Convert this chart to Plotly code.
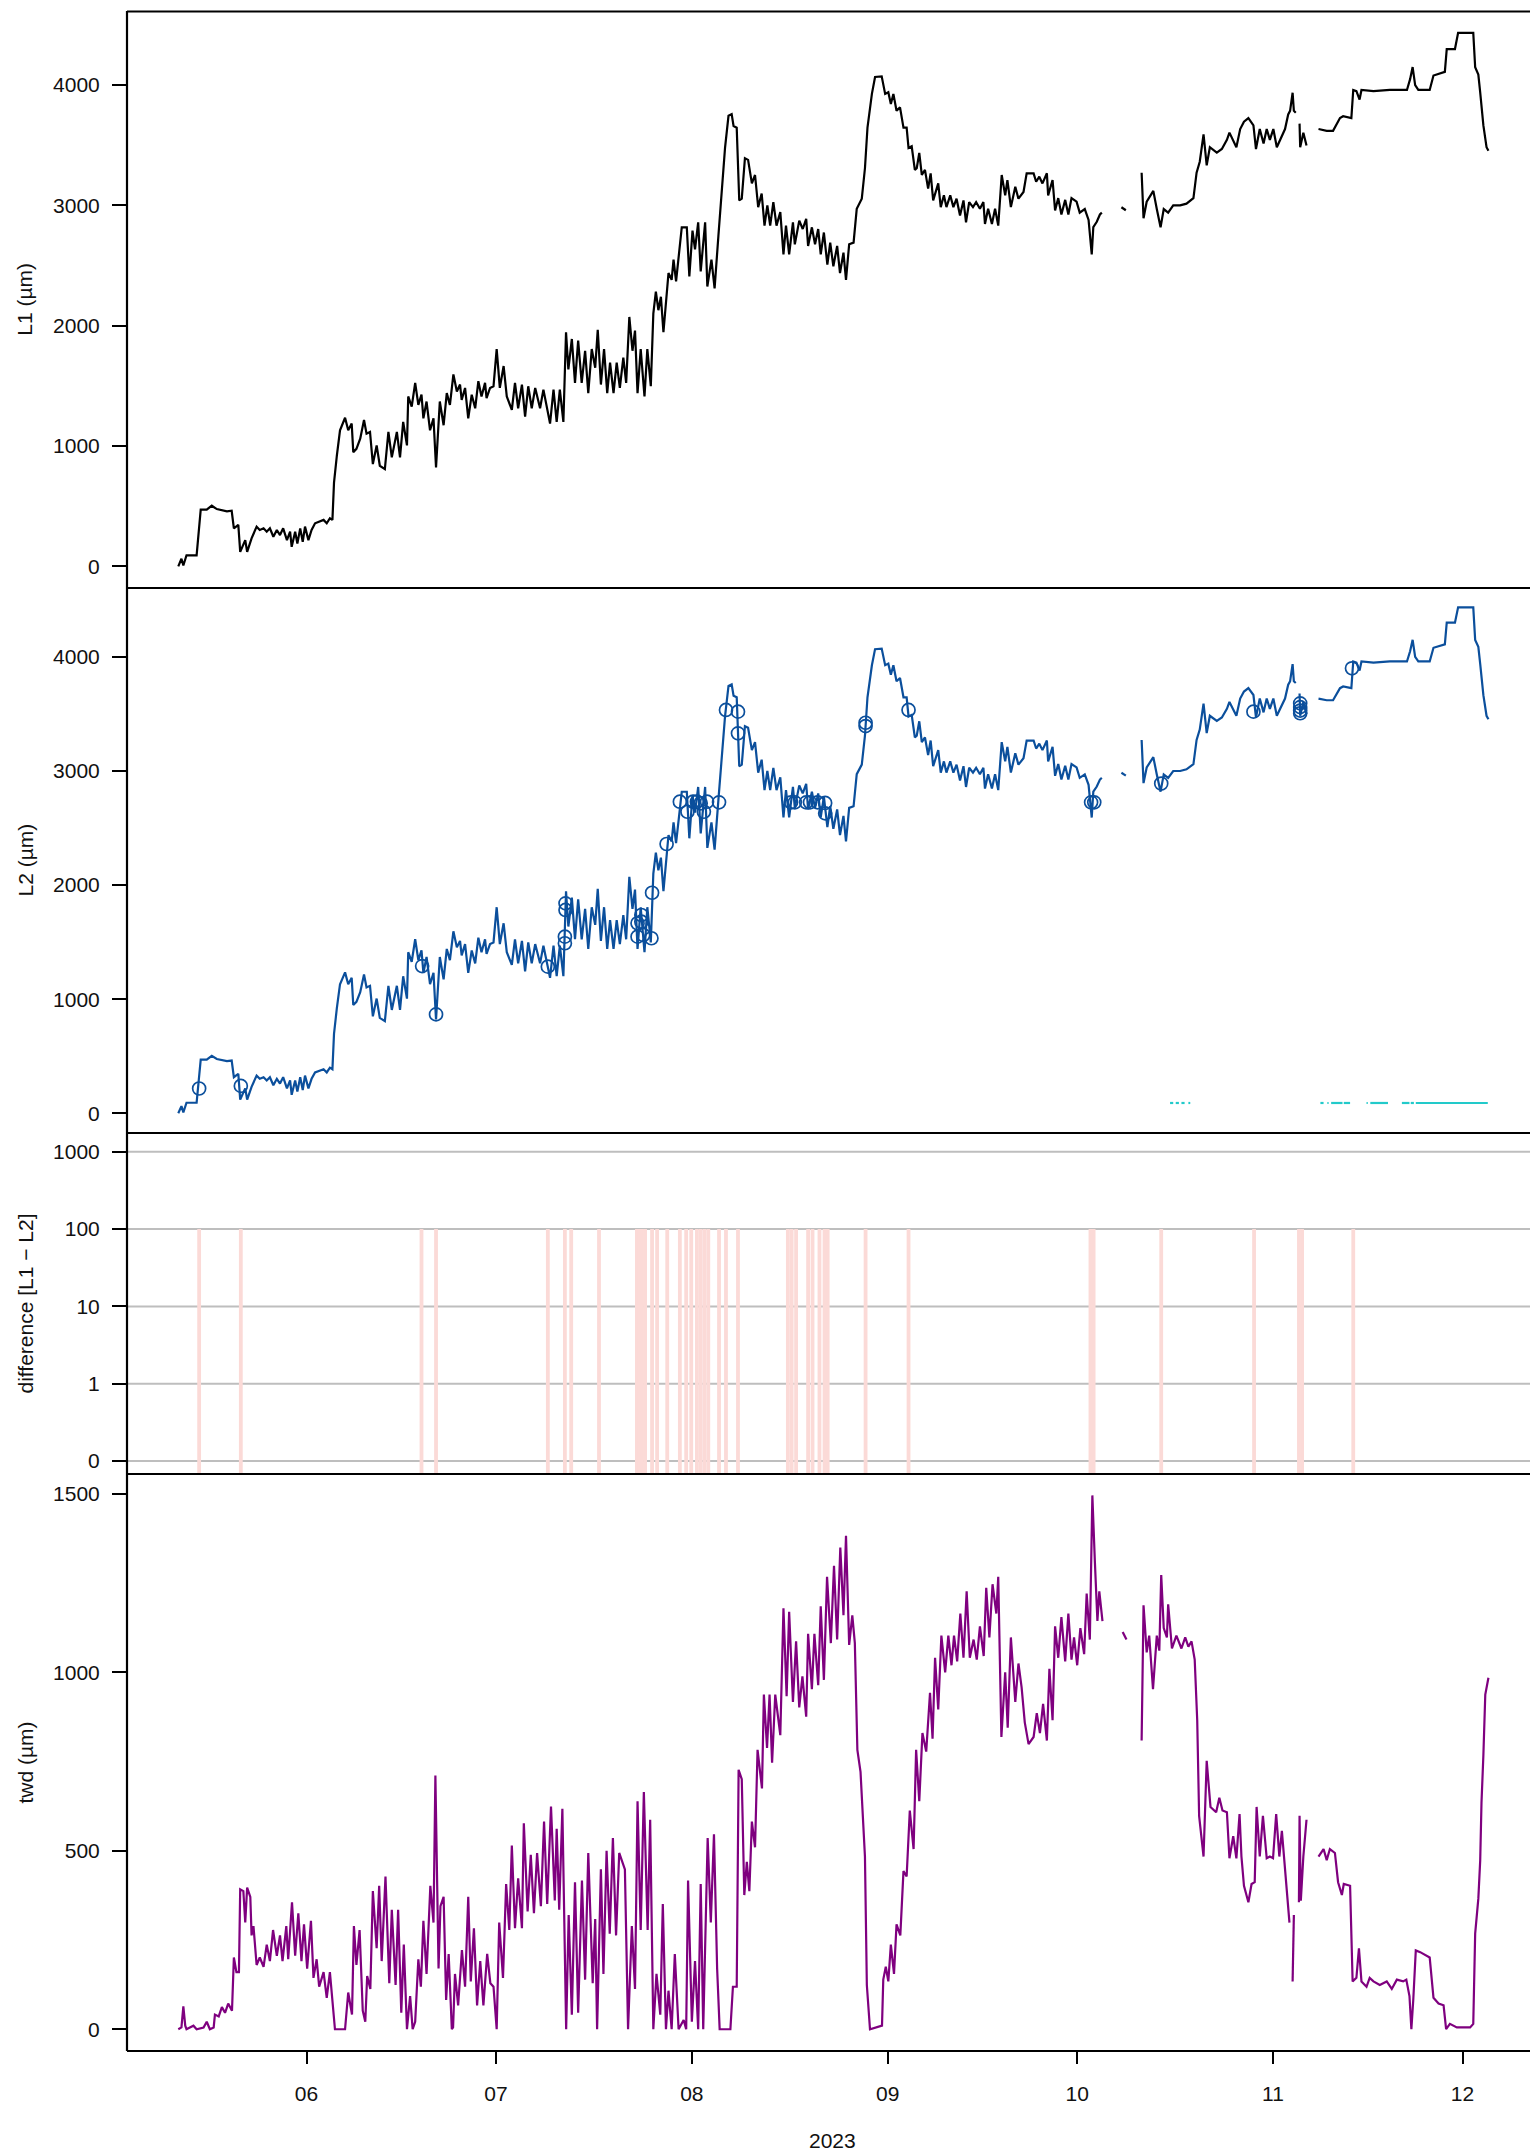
import pandas as pd
import plotly.graph_objects as go

# ---------------- data (x = days after 2023-06-01) ----------------
BASE = pd.Timestamp("2023-06-01")

l1_points = [
    (-20.3, 0), (-19.8, 63), (-19.5, 7), (-19.0, 92), (-17.4, 92), (-17.0, 330), (-16.75, 471),
    (-15.8, 471), (-15.0, 504), (-14.2, 476), (-12.6, 457), (-11.85, 462), (-11.5, 316),
    (-10.8, 345), (-10.5, 120), (-9.7, 218), (-9.4, 120), (-8.7, 232), (-7.9, 330), (-7.4, 302),
    (-6.8, 316), (-6.3, 288), (-5.8, 316), (-5.25, 246), (-4.7, 302), (-4.2, 260), (-3.7, 316),
    (-3.1, 218), (-2.6, 288), (-2.35, 162), (-1.8, 288), (-1.45, 190), (-1.0, 316), (-0.6, 204),
    (-0.24, 330), (0.3, 218), (0.8, 302), (1.35, 358), (2.0, 372), (2.7, 386), (3.2, 358),
    (3.7, 400), (4.1, 386), (4.35, 696), (4.8, 921), (5.3, 1131), (6.1, 1235), (6.6, 1131),
    (7.15, 1187), (7.4, 949), (7.9, 977), (8.5, 1061), (9.1, 1216), (9.5, 1103), (10.05, 1117),
    (10.5, 850), (11.1, 1005), (11.6, 836), (12.4, 808), (12.96, 1117), (13.5, 906), (14.3, 1117),
    (14.8, 906), (15.3, 1201), (15.9, 1005), (16.1, 1412), (16.65, 1328), (17.2, 1525),
    (17.7, 1342), (18.2, 1427), (18.5, 1230), (19.0, 1370), (19.55, 1131), (20.1, 1230),
    (20.5, 822), (21.1, 1370), (21.7, 1173), (22.2, 1440), (22.7, 1342), (23.25, 1595),
    (23.8, 1454), (24.3, 1511), (24.56, 1384), (25.1, 1483), (25.6, 1230), (26.15, 1427),
    (26.7, 1314), (27.2, 1539), (27.7, 1412), (28.26, 1525), (28.5, 1398), (29.05, 1483),
    (29.6, 1497), (30.1, 1806), (30.6, 1483), (31.2, 1665), (31.7, 1412), (32.5, 1300),
    (33.0, 1525), (33.5, 1314), (34.1, 1511), (34.6, 1244), (35.1, 1497), (35.65, 1314),
    (36.2, 1483), (36.97, 1314), (37.5, 1469), (38.55, 1187), (39.1, 1469), (39.6, 1201),
    (40.1, 1469), (40.66, 1201), (41.08, 1946), (41.45, 1637), (42.0, 1890), (42.5, 1525),
    (43.0, 1876), (43.56, 1525), (44.1, 1792), (44.6, 1440), (45.15, 1806), (45.7, 1651),
    (46.1, 1967), (46.6, 1511), (47.1, 1806), (47.6, 1440), (48.05, 1693), (48.6, 1440),
    (49.1, 1693), (49.6, 1483), (50.15, 1736), (50.6, 1525), (51.1, 2073), (51.6, 1792),
    (52.0, 1960), (52.4, 1440), (52.9, 1806), (53.5, 1412), (53.95, 1806), (54.5, 1497),
    (54.9, 2101), (55.3, 2284), (55.7, 2129), (56.1, 2241), (56.5, 1946), (57.3, 2438),
    (57.8, 2382), (58.1, 2550), (58.5, 2368), (59.1, 2677), (59.4, 2818), (60.2, 2818),
    (60.6, 2410), (61.1, 2790), (61.5, 2635), (62.0, 2860), (62.4, 2452), (63.1, 2860),
    (63.45, 2326), (64.1, 2550), (64.6, 2311), (65.2, 2747), (65.7, 3084), (66.25, 3478),
    (66.8, 3745), (67.3, 3759), (67.6, 3660), (68.1, 3646), (68.5, 3042), (68.9, 3056),
    (69.4, 3393), (69.9, 3379), (70.5, 3183), (71.0, 3253), (71.5, 2986), (72.05, 3099),
    (72.5, 2832), (72.95, 3000), (73.4, 2832), (73.9, 3028), (74.4, 2832), (75.0, 2944),
    (75.5, 2593), (75.9, 2832), (76.4, 2593), (77.0, 2860), (77.3, 2677), (78.0, 2874),
    (78.55, 2804), (79.1, 2888), (79.4, 2663), (80.0, 2818), (80.5, 2677), (81.0, 2804),
    (81.4, 2593), (81.9, 2775), (82.45, 2508), (82.9, 2691), (83.4, 2494), (84.0, 2663),
    (84.45, 2438), (85.0, 2607), (85.4, 2382), (85.9, 2677), (86.6, 2691), (87.1, 2972),
    (87.9, 3056), (88.4, 3309), (88.8, 3646), (89.5, 3927), (90.0, 4068), (91.05, 4073),
    (91.6, 3927), (92.1, 3941), (92.5, 3843), (92.9, 3927), (93.4, 3787), (93.95, 3815),
    (94.5, 3646), (95.0, 3646), (95.3, 3478), (95.8, 3492), (96.3, 3295), (96.6, 3309),
    (97.0, 3436), (97.4, 3253), (97.9, 3295), (98.4, 3140), (98.8, 3267), (99.2, 3042),
    (100.0, 3183), (100.4, 2986), (100.9, 3084), (101.3, 2986), (101.9, 3084), (102.4, 2986),
    (102.9, 3056), (103.45, 2916), (104.0, 3042), (104.4, 2860), (104.9, 3028), (105.5, 2986),
    (106.0, 3028), (106.6, 2972), (107.15, 3028), (107.4, 2846), (107.9, 2972), (108.5, 2846),
    (109.0, 2972), (109.5, 2832), (110.05, 3253), (110.6, 3084), (110.95, 3211), (111.5, 2986),
    (112.2, 3155), (112.7, 3056), (113.5, 3112), (114.0, 3267), (115.1, 3267), (115.5, 3197),
    (116.0, 3239), (116.5, 3183), (117.2, 3267), (117.4, 3084), (118.1, 3211), (118.5, 2958),
    (119.0, 3061), (119.5, 2925), (120.1, 3046), (120.6, 2925), (121.1, 3061), (121.9, 3031),
    (122.4, 2940), (123.2, 2970), (123.8, 2879), (124.3, 2592), (124.55, 2819), (125.1, 2864),
    (125.6, 2925), (125.9, 2940), (126.5, None), (129.0, 2985), (129.7, 2960), (130.5, None),
    (132.2, 3272), (132.5, 2894), (133.0, 3031), (134.05, 3121), (134.6, 2970), (135.2, 2819),
    (135.7, 2970), (136.4, 2940), (137.2, 3000), (138.3, 3000), (139.3, 3015), (140.4, 3061),
    (140.9, 3272), (141.4, 3363), (142.0, 3590), (142.5, 3333), (143.0, 3484), (144.1, 3439),
    (144.9, 3469), (145.7, 3545), (146.1, 3605), (146.6, 3545), (147.2, 3484), (147.8, 3635),
    (148.4, 3696), (149.1, 3726), (149.9, 3666), (150.3, 3469), (150.9, 3635), (151.5, 3514),
    (152.0, 3635), (152.5, 3545), (153.05, 3635), (153.6, 3484), (154.1, 3545), (154.9, 3635),
    (155.4, 3756), (155.7, 3786), (156.1, 3937), (156.3, 3786), (156.6, 3771), (156.9, None),
    (157.2, 3680), (157.3, 3484), (157.8, 3605), (158.3, 3499), (159.0, None),
    (160.2, 3635), (161.5, 3620), (162.5, 3620), (163.6, 3726), (164.1, 3741), (165.4, 3726),
    (165.7, 3960), (166.2, 3950), (166.7, 3880), (167.0, 3960), (168.9, 3950), (171.5, 3960),
    (174.2, 3960), (174.7, 4050), (175.1, 4150), (175.5, 4000), (176.0, 3960), (177.8, 3960),
    (178.4, 4080), (179.4, 4100), (180.2, 4110), (180.5, 4300), (181.8, 4300), (182.3, 4434),
    (184.7, 4434), (185.0, 4149), (185.5, 4088), (185.8, 3937), (186.3, 3665), (186.8, 3484),
    (187.1, 3454),
]

# L2 follows the same curve as L1 in the picture
l2_points = list(l1_points)

l2_circles = [
    (-17.0, 217), (-10.4, 240), (18.3, 1290), (20.5, 867), (38.2, 1285), (40.9, 1490),
    (40.9, 1548), (41.0, 1782), (41.0, 1840), (52.4, 1665), (52.4, 1548), (53.0, 1738),
    (53.0, 1679), (53.3, 1563), (54.6, 1534), (54.7, 1933), (57.0, 2360), (59.1, 2731),
    (60.3, 2643), (61.2, 2731), (61.8, 2731), (62.4, 2717), (62.9, 2643), (63.4, 2731),
    (65.3, 2725), (66.4, 3535), (68.3, 3520), (68.3, 3330), (76.7, 2725), (77.3, 2725),
    (79.1, 2725), (79.7, 2725), (80.9, 2725), (82.1, 2720), (82.1, 2629), (88.5, 3423),
    (88.5, 3394), (95.3, 3535), (124.2, 2725), (124.7, 2725), (135.3, 2890), (149.9, 3520),
    (157.3, 3593), (157.3, 3560), (157.3, 3530), (157.3, 3506), (165.5, 3900),
]

# frost-flag segments drawn near the bottom of the L2 panel: (start, end) in days
frost_segments = [
    (136.7, 137.2), (137.6, 138.1), (138.5, 139.0), (139.6, 139.9),
    (160.5, 161.0), (161.6, 161.8), (162.2, 164.0), (164.2, 165.2),
    (167.8, 168.0), (168.4, 171.2), (173.4, 174.6), (174.8, 175.3), (175.6, 187.0),
]
frost_level = 90

# days with a difference between L1 and L2 (drawn up to the "100" level)
diff_days = [
    -17.0, -10.4, 18.2, 20.5, 38.2, 40.9, 41.9, 46.3, 52.3, 52.7, 53.1, 53.6, 54.7, 55.5,
    57.1, 59.1, 60.1, 60.9, 61.8, 62.4, 63.0, 63.6, 65.3, 66.4, 68.3, 76.2, 76.8, 77.5,
    79.4, 80.1, 81.2, 82.0, 82.5, 88.5, 95.3, 124.1, 124.6, 135.3, 150.0, 157.1, 157.6, 165.7,
]
diff_level = 3  # position of the "100" tick

twd_points = [
    (-20.3, 0), (-19.8, 5), (-19.5, 64), (-19.2, 10), (-19.0, 0), (-18.4, 5), (-17.9, 10),
    (-17.4, 0), (-16.3, 5), (-15.8, 21), (-15.3, 0), (-14.7, 5), (-14.5, 41), (-13.9, 36),
    (-13.4, 62), (-12.9, 46), (-12.4, 72), (-11.8, 52), (-11.5, 201), (-11.1, 160), (-10.7, 160),
    (-10.5, 392), (-10.0, 387), (-9.7, 299), (-9.4, 397), (-8.9, 371), (-8.7, 263), (-8.4, 289),
    (-7.9, 180), (-7.4, 201), (-6.8, 175), (-6.3, 237), (-5.8, 191), (-5.3, 278), (-4.7, 206),
    (-4.2, 263), (-3.8, 191), (-3.2, 289), (-2.9, 196), (-2.3, 356), (-1.8, 206), (-1.3, 325),
    (-0.8, 191), (-0.4, 294), (0.1, 170), (0.7, 304), (1.1, 144), (1.6, 196), (2.0, 119),
    (2.7, 160), (3.2, 88), (3.7, 160), (4.1, 67), (4.5, 0), (6.1, 0), (6.6, 103), (7.2, 41),
    (7.5, 289), (7.9, 180), (8.4, 278), (8.9, 52), (9.3, 21), (9.6, 149), (10.1, 113),
    (10.5, 387), (11.1, 227), (11.5, 402), (11.9, 191), (12.5, 428), (13.1, 129), (13.5, 335),
    (14.1, 124), (14.5, 335), (15.0, 46), (15.4, 237), (15.9, 0), (16.4, 93), (16.8, 0),
    (17.2, 21), (17.7, 196), (18.1, 119), (18.5, 304), (19.0, 155), (19.6, 402), (20.1, 299),
    (20.4, 711), (20.9, 170), (21.2, 345), (21.7, 371), (22.1, 82), (22.5, 211), (23.0, 0),
    (23.2, 5), (23.5, 155), (24.0, 67), (24.6, 222), (25.1, 119), (25.6, 371), (26.0, 134),
    (26.5, 283), (27.0, 67), (27.5, 191), (28.0, 67), (28.6, 211), (29.1, 129), (29.6, 119),
    (30.1, 0), (30.5, 299), (31.1, 144), (31.6, 407), (32.1, 278), (32.5, 515), (33.0, 283),
    (33.5, 423), (34.1, 283), (34.4, 577), (35.0, 330), (35.5, 489), (36.0, 325), (36.5, 494),
    (37.1, 345), (37.6, 582), (38.1, 351), (38.7, 624), (39.3, 361), (39.6, 562), (40.0, 335),
    (40.5, 618), (41.1, 0), (41.5, 320), (42.0, 41), (42.5, 412), (43.0, 46), (43.6, 417),
    (44.1, 139), (44.6, 494), (45.3, 129), (45.7, 309), (46.0, 0), (46.6, 448), (47.0, 155),
    (47.5, 500), (48.0, 268), (48.5, 536), (49.0, 263), (49.5, 494), (50.4, 448), (50.9, 0),
    (51.5, 289), (52.0, 113), (52.4, 639), (52.9, 278), (53.4, 665), (54.0, 278), (54.4, 587),
    (54.9, 0), (55.4, 155), (56.0, 41), (56.4, 351), (56.9, 0), (57.3, 108), (57.8, 0),
    (58.3, 211), (58.9, 0), (59.7, 26), (60.1, 0), (60.4, 417), (61.0, 21), (61.5, 191),
    (62.0, 0), (62.4, 407), (62.8, 0), (63.5, 536), (64.0, 299), (64.5, 546), (65.0, 170),
    (65.4, 0), (67.1, 0), (67.5, 119), (68.1, 119), (68.4, 727), (68.9, 701), (69.3, 376),
    (69.7, 469), (70.1, 387), (70.5, 582), (71.0, 510), (71.4, 783), (72.1, 675), (72.4, 938),
    (72.9, 788), (73.3, 938), (73.7, 747), (74.2, 938), (75.0, 824), (75.5, 1180), (76.0, 933),
    (76.4, 1170), (77.0, 917), (77.5, 1087), (78.0, 902), (78.5, 989), (79.1, 876), (79.4, 1108),
    (80.0, 953), (80.4, 1108), (81.0, 964), (81.4, 1185), (81.9, 979), (82.4, 1268), (83.0, 1082),
    (83.5, 1299), (84.0, 1092), (84.5, 1350), (85.0, 1160), (85.4, 1383), (85.9, 1077),
    (86.4, 1160), (86.8, 1082), (87.2, 783), (87.7, 721), (88.4, 484), (88.7, 124), (89.2, 0),
    (91.1, 10), (91.3, 139), (91.7, 175), (92.1, 134), (92.5, 237), (93.0, 155), (93.4, 294),
    (94.0, 263), (94.5, 443), (95.0, 428), (95.5, 613), (96.1, 505), (96.5, 783), (97.0, 639),
    (97.5, 830), (98.1, 778), (98.7, 943), (99.1, 814), (99.5, 1041), (100.0, 896),
    (100.5, 1103), (101.1, 1000), (101.6, 1103), (102.1, 1020), (102.5, 1103), (103.0, 1031),
    (103.5, 1165), (104.0, 1041), (104.5, 1227), (105.0, 1041), (105.6, 1092), (106.1, 1036),
    (106.6, 1129), (107.2, 1046), (107.6, 1237), (108.1, 1098), (108.6, 1247), (109.2, 1165),
    (109.5, 1268), (110.0, 819), (110.6, 1000), (111.0, 845), (111.5, 1098), (112.2, 917),
    (112.7, 1025), (113.2, 958), (113.7, 860), (114.3, 799), (115.1, 819), (115.6, 886),
    (116.1, 830), (116.6, 912), (117.2, 809), (117.6, 1010), (118.1, 866), (118.5, 1129),
    (119.0, 1041), (119.5, 1155), (120.1, 1031), (120.6, 1165), (121.1, 1036), (121.5, 1098),
    (122.0, 1020), (122.5, 1124), (123.1, 1051), (123.5, 1221), (124.0, 1092), (124.4, 1496),
    (124.8, 1309), (125.2, 1144), (125.5, 1227), (126.0, 1144), (126.5, None), (129.2, 1113),
    (129.8, 1092), (130.5, None), (132.2, 809), (132.5, 1188), (133.0, 1056), (133.4, 1103),
    (134.0, 953), (134.6, 1103), (135.0, 1061), (135.3, 1273), (135.7, 1124), (136.2, 1098),
    (136.4, 1191), (137.0, 1067), (137.7, 1103), (138.5, 1067), (139.1, 1098), (139.6, 1072),
    (140.1, 1087), (140.6, 1036), (141.0, 866), (141.3, 598), (142.0, 484), (142.5, 752),
    (143.1, 623), (144.0, 608), (144.5, 649), (145.0, 613), (145.7, 608), (146.1, 479),
    (146.7, 541), (147.2, 479), (147.7, 603), (148.0, 484), (148.4, 402), (149.1, 356),
    (149.6, 407), (150.1, 412), (150.4, 623), (150.9, 484), (151.4, 598), (152.0, 479),
    (152.5, 484), (153.0, 479), (153.5, 603), (154.0, 484), (154.4, 556), (154.9, 453),
    (155.6, 299), (155.9, None), (156.1, 134), (156.3, 320), (156.6, None), (157.1, 356),
    (157.2, 598), (157.4, 360), (157.8, 484), (158.3, 587), (159.0, None), (160.2, 484),
    (161.0, 505), (161.5, 474), (162.0, 505), (162.8, 494), (163.3, 412), (163.9, 376),
    (164.2, 407), (165.2, 402), (165.6, 134), (166.2, 144), (166.6, 227), (167.0, 134),
    (167.8, 119), (168.3, 144), (168.9, 134), (169.9, 124), (171.0, 134), (171.8, 113),
    (172.6, 139), (173.6, 134), (174.1, 139), (174.6, 93), (174.9, 0), (175.2, 82),
    (175.6, 221), (176.3, 216), (177.3, 206), (177.8, 201), (178.4, 88), (179.2, 72),
    (180.0, 67), (180.4, 0), (181.0, 15), (182.1, 5), (184.2, 5), (184.7, 15), (185.0, 268),
    (185.5, 366), (185.8, 474), (186.0, 634), (186.3, 768), (186.6, 938), (187.1, 985),
]

month_ticks = ["2023-06-01", "2023-07-01", "2023-08-01", "2023-09-01",
               "2023-10-01", "2023-11-01", "2023-12-01"]
month_labels = ["06", "07", "08", "09", "10", "11", "12"]
diff_tickvals = [0, 1, 2, 3, 4]
diff_ticktext = ["0", "1", "10", "100", "1000"]

# ---------------- helpers ----------------
def to_dates(days):
    return [BASE + pd.Timedelta(days=d) for d in days]

def split(points):
    d = [p[0] for p in points]
    v = [p[1] for p in points]
    return to_dates(d), v

FONT = "Liberation Sans, Arial, Helvetica, sans-serif"
FS = 21
BLACK = "#000000"
BLUE = "#0B4F9C"
PURPLE = "#7F007F"
CYAN = "#22CACA"
PINK = "#FBDAD7"
GRID = "#BEBEBE"

# figure geometry: the page body adds an 8px margin, so the figure is sized to match
FIG_W, FIG_H = 1522, 2147
M_L, M_T, M_B = 119, 3, 104
PLOT_H = FIG_H - M_T - M_B
PLOT_W = FIG_W - M_L


def frac(px_from_fig_top):
    return (FIG_H - M_B - px_from_fig_top) / PLOT_H


# panel boundaries (figure px from top)
b_top, b12, b23, b34, b_bot = 3.5, 580, 1125, 1466, 2043
dom1 = [frac(b12), frac(b_top)]
dom2 = [frac(b23), frac(b12)]
dom3 = [frac(b34), frac(b23)]
dom4 = [frac(b_bot), frac(b34)]

fig = go.Figure()

x1, y1 = split(l1_points)
fig.add_trace(go.Scatter(x=x1, y=y1, mode="lines", line=dict(color=BLACK, width=2.2),
                         connectgaps=False, xaxis="x", yaxis="y", hoverinfo="skip"))

x2, y2 = split(l2_points)
fig.add_trace(go.Scatter(x=x2, y=y2, mode="lines", line=dict(color=BLUE, width=2.2),
                         connectgaps=False, xaxis="x", yaxis="y2", hoverinfo="skip"))
cx, cy = split(l2_circles)
fig.add_trace(go.Scatter(x=cx, y=cy, mode="markers",
                         marker=dict(symbol="circle-open", size=13, color=BLUE,
                                     line=dict(color=BLUE, width=1.7)),
                         xaxis="x", yaxis="y2", hoverinfo="skip"))
fx, fy = [], []
for s, e in frost_segments:
    fx += to_dates([s, e]) + [None]
    fy += [frost_level, frost_level, None]
fig.add_trace(go.Scatter(x=fx, y=fy, mode="lines", line=dict(color=CYAN, width=2.2),
                         xaxis="x", yaxis="y2", hoverinfo="skip"))

# difference panel: pink marks
px_, py_ = [], []
for d in diff_days:
    px_ += to_dates([d, d]) + [None]
    py_ += [-1, diff_level, None]
fig.add_trace(go.Scatter(x=px_, y=py_, mode="lines", line=dict(color=PINK, width=3.8),
                         xaxis="x", yaxis="y3", hoverinfo="skip"))

x4, y4 = split(twd_points)
fig.add_trace(go.Scatter(x=x4, y=y4, mode="lines", line=dict(color=PURPLE, width=2.2),
                         connectgaps=False, xaxis="x", yaxis="y4", hoverinfo="skip"))

xr = [BASE + pd.Timedelta(days=-28.42), BASE + pd.Timedelta(days=193.68)]

yax_common = dict(showgrid=False, zeroline=False, showline=False, ticks="outside",
                  ticklen=14, tickwidth=1.6, tickcolor=BLACK,
                  tickfont=dict(family=FONT, size=FS, color="#111111"),
                  ticklabelstandoff=8, anchor="x", fixedrange=True)

fig.update_layout(
    width=FIG_W, height=FIG_H,
    margin=dict(l=M_L, r=0, t=M_T, b=M_B),
    paper_bgcolor="white", plot_bgcolor="white",
    showlegend=False, hovermode=False,
    xaxis=dict(domain=[0, 1], range=xr, type="date", anchor="y4",
               showgrid=False, zeroline=False, showline=False,
               tickvals=month_ticks, ticktext=month_labels,
               ticks="outside", ticklen=12, tickwidth=1.6, tickcolor=BLACK,
               tickfont=dict(family=FONT, size=FS, color="#111111"),
               ticklabelstandoff=12),
    yaxis=dict(domain=dom1, range=[-180, 4612], tickvals=[0, 1000, 2000, 3000, 4000],
               **yax_common),
    yaxis2=dict(domain=dom2, range=[-173, 4604], tickvals=[0, 1000, 2000, 3000, 4000],
                **yax_common),
    yaxis3=dict(domain=dom3, range=[-0.168, 4.243], tickvals=diff_tickvals,
                ticktext=diff_ticktext, **yax_common),
    yaxis4=dict(domain=dom4, range=[-61, 1556], tickvals=[0, 500, 1000, 1500],
                **yax_common),
)

# grey reference lines in the difference panel
shapes = []
for v in diff_tickvals:
    shapes.append(dict(type="line", xref="paper", x0=0, x1=1, yref="y3", y0=v, y1=v,
                       line=dict(color=GRID, width=2), layer="below"))
# panel frame lines
for yb in [dom4[0], dom4[1], dom3[1], dom2[1], dom1[1]]:
    shapes.append(dict(type="line", xref="paper", yref="paper", x0=0, x1=1, y0=yb, y1=yb,
                       line=dict(color=BLACK, width=2.2)))
shapes.append(dict(type="line", xref="paper", yref="paper", x0=0, x1=0, y0=0, y1=1,
                   line=dict(color=BLACK, width=2.2)))
fig.update_layout(shapes=shapes)

titles = [("L1 (µm)", dom1), ("L2 (µm)", dom2), ("difference [L1 − L2]", dom3),
          ("twd (µm)", dom4)]
ann = []
title_x = (17 - M_L) / PLOT_W
for t, dom in titles:
    ann.append(dict(text=t, xref="paper", yref="paper", x=title_x, y=(dom[0] + dom[1]) / 2,
                    textangle=-90, showarrow=False, xanchor="center", yanchor="middle",
                    font=dict(family=FONT, size=FS, color="#111111")))
ann.append(dict(text="2023", xref="paper", yref="paper", x=0.503, y=frac(2132),
                showarrow=False, xanchor="center", yanchor="middle",
                font=dict(family=FONT, size=FS, color="#111111")))
fig.update_layout(annotations=ann)

fig.write_html("out.html")
